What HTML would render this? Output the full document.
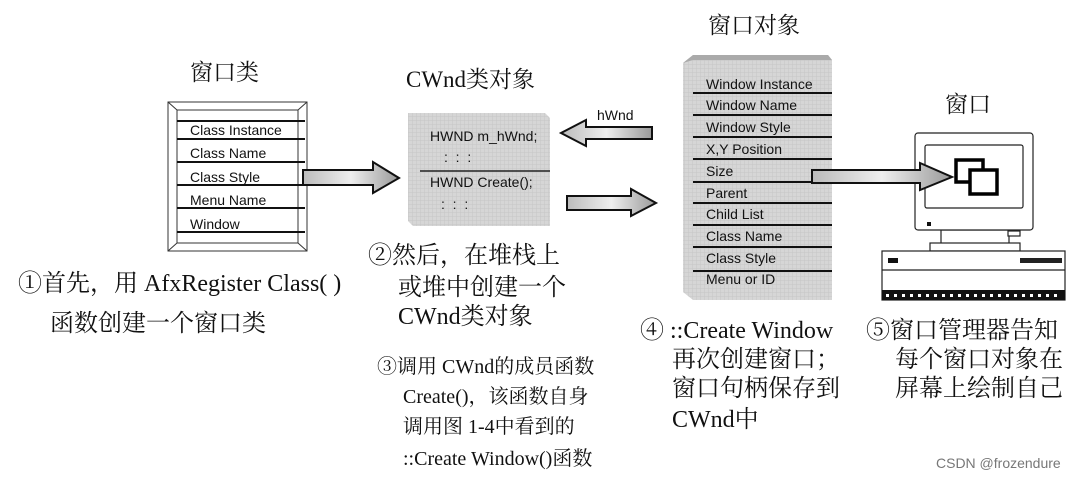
<!DOCTYPE html><html><head><meta charset="utf-8"><style>
body{margin:0;background:#fff;width:1086px;height:478px;overflow:hidden}
svg{display:block}
.s{font-family:"Liberation Sans",sans-serif;font-size:14px;fill:#111}
.c{font-family:"Liberation Serif","Noto Serif CJK SC",serif;fill:#111}
</style></head><body>
<svg width="1086" height="478" viewBox="0 0 1086 478">
<defs>
<linearGradient id="ag" x1="0" x2="1"><stop offset="0" stop-color="#bbb"/><stop offset="0.5" stop-color="#eee"/><stop offset="1" stop-color="#999"/></linearGradient>
<pattern id="gr" width="4" height="4" patternUnits="userSpaceOnUse"><rect width="4" height="4" fill="#d6d6d6"/><path d="M0 0H4M0 0V4" stroke="#c6c6c6" stroke-width="1"/></pattern>
</defs>
<g class="c" font-size="23">
<text x="190" y="80">窗口类</text>
<text x="406" y="87">CWnd类对象</text>
<text x="708" y="33">窗口对象</text>
<text x="945" y="112">窗口</text>
</g>
<g stroke="#333" fill="none" stroke-width="1">
<rect x="168" y="102" width="139" height="149"/>
<rect x="177" y="110" width="121" height="133"/>
<line x1="168" y1="102" x2="177" y2="110"/><line x1="307" y1="102" x2="298" y2="110"/>
<line x1="168" y1="251" x2="177" y2="243"/><line x1="307" y1="251" x2="298" y2="243"/>
</g>
<g stroke="#111" stroke-width="2">
<line x1="177" y1="121" x2="305" y2="121"/><line x1="177" y1="139" x2="305" y2="139"/>
<line x1="177" y1="162" x2="305" y2="162"/><line x1="177" y1="185" x2="305" y2="185"/>
<line x1="177" y1="208" x2="305" y2="208"/><line x1="177" y1="232" x2="305" y2="232"/>
</g>
<text x="190" y="135" class="s">Class Instance</text>
<text x="190" y="158" class="s">Class Name</text>
<text x="190" y="182" class="s">Class Style</text>
<text x="190" y="205" class="s">Menu Name</text>
<text x="190" y="229" class="s">Window</text>
<path d="M303 170H373V162L399 178L373 193V185H303Z" fill="url(#ag)" stroke="#111" stroke-width="2"/>
<path d="M408 113H545L550 118V226H413L408 221Z" fill="url(#gr)"/>
<line x1="420" y1="171" x2="550" y2="171" stroke="#222" stroke-width="1.5"/>
<text x="430" y="141" class="s" font-size="12.5">HWND m_hWnd;</text>
<text x="444" y="162" class="s" font-size="12">:&#160;&#160;:&#160;&#160;:</text>
<text x="430" y="187" class="s" font-size="12.5">HWND Create();</text>
<text x="441" y="209" class="s" font-size="12">:&#160;&#160;:&#160;&#160;:</text>
<text x="597" y="120" class="s" font-size="15">hWnd</text>
<path d="M652 127H586V120L561 133L586 146V139H652Z" fill="url(#ag)" stroke="#111" stroke-width="2"/>
<path d="M567 196H631V189L656 203L631 216V210H567Z" fill="url(#ag)" stroke="#111" stroke-width="2"/>
<path d="M683 63L693 55H828L832 60V300H693L683 292Z" fill="url(#gr)"/>
<path d="M683 63L693 55H828L832 60H693Z" fill="#aaa"/>
<g stroke="#111" stroke-width="2">
<line x1="693" y1="93" x2="832" y2="93"/><line x1="693" y1="115" x2="832" y2="115"/>
<line x1="693" y1="137" x2="832" y2="137"/><line x1="693" y1="159" x2="832" y2="159"/>
<line x1="693" y1="182" x2="832" y2="182"/><line x1="693" y1="203" x2="832" y2="203"/>
<line x1="693" y1="225" x2="832" y2="225"/><line x1="693" y1="247" x2="832" y2="247"/>
<line x1="693" y1="271" x2="832" y2="271"/>
</g>
<g class="s">
<text x="706" y="89">Window Instance</text><text x="706" y="110">Window Name</text>
<text x="706" y="132">Window Style</text><text x="706" y="154">X,Y Position</text>
<text x="706" y="176">Size</text><text x="706" y="198">Parent</text>
<text x="706" y="219">Child List</text><text x="706" y="241">Class Name</text>
<text x="706" y="263">Class Style</text><text x="706" y="284">Menu or ID</text>
</g>
<g stroke="#222" fill="#fff" stroke-width="1.2">
<rect x="941" y="230" width="68" height="16"/>
<rect x="930" y="243" width="90" height="8"/>
<rect x="915" y="133" width="118" height="97" rx="3"/>
<rect x="925" y="145" width="98" height="63" rx="2"/>
<rect x="1008" y="231" width="12" height="5"/>
<rect x="882" y="251" width="183" height="49"/>
<line x1="882" y1="270" x2="1065" y2="270"/>
</g>
<rect x="927" y="222" width="4" height="4" fill="#111"/>
<rect x="888" y="258" width="10" height="5" fill="#111"/>
<rect x="1020" y="258" width="42" height="5" fill="#222"/>
<rect x="882" y="290" width="183" height="10" fill="#111"/>
<g fill="#fff"><rect x="886" y="294" width="3" height="3"/><rect x="894" y="294" width="3" height="3"/><rect x="902" y="294" width="3" height="3"/><rect x="910" y="294" width="3" height="3"/><rect x="918" y="294" width="3" height="3"/><rect x="926" y="294" width="3" height="3"/><rect x="934" y="294" width="3" height="3"/><rect x="942" y="294" width="3" height="3"/><rect x="950" y="294" width="3" height="3"/><rect x="958" y="294" width="3" height="3"/><rect x="966" y="294" width="3" height="3"/><rect x="974" y="294" width="3" height="3"/><rect x="982" y="294" width="3" height="3"/><rect x="990" y="294" width="3" height="3"/><rect x="998" y="294" width="3" height="3"/><rect x="1006" y="294" width="3" height="3"/><rect x="1014" y="294" width="3" height="3"/><rect x="1022" y="294" width="3" height="3"/><rect x="1030" y="294" width="3" height="3"/><rect x="1038" y="294" width="3" height="3"/><rect x="1046" y="294" width="3" height="3"/><rect x="1054" y="294" width="3" height="3"/></g>
<rect x="956" y="160" width="27" height="22" fill="#fff" stroke="#000" stroke-width="3.5"/>
<rect x="970" y="170" width="27" height="24" fill="#fff" stroke="#000" stroke-width="3.5"/>
<path d="M812 170H920V163L952 177L920 190V183H812Z" fill="url(#ag)" stroke="#111" stroke-width="2"/>
<g class="c" font-size="24">
<text x="18" y="291">①首先，用 AfxRegister Class( )</text>
<text x="50" y="331">函数创建一个窗口类</text>
<text x="368" y="263">②然后，在堆栈上</text>
<text x="398" y="295">或堆中创建一个</text>
<text x="398" y="324">CWnd类对象</text>
<text x="640" y="338">④ ::Create Window</text>
<text x="672" y="367">再次创建窗口；</text>
<text x="672" y="396">窗口句柄保存到</text>
<text x="672" y="427">CWnd中</text>
<text x="866" y="338">⑤窗口管理器告知</text>
<text x="895" y="367">每个窗口对象在</text>
<text x="895" y="396">屏幕上绘制自己</text>
</g>
<g class="c" font-size="20">
<text x="377" y="373">③调用 CWnd的成员函数</text>
<text x="403" y="403">Create()，该函数自身</text>
<text x="403" y="433">调用图 1-4中看到的</text>
<text x="403" y="465">::Create Window()函数</text>
</g>
<text x="936" y="468" font-family="Liberation Sans,sans-serif" font-size="14" fill="#777">CSDN @frozendure</text>
</svg>
</body></html>
